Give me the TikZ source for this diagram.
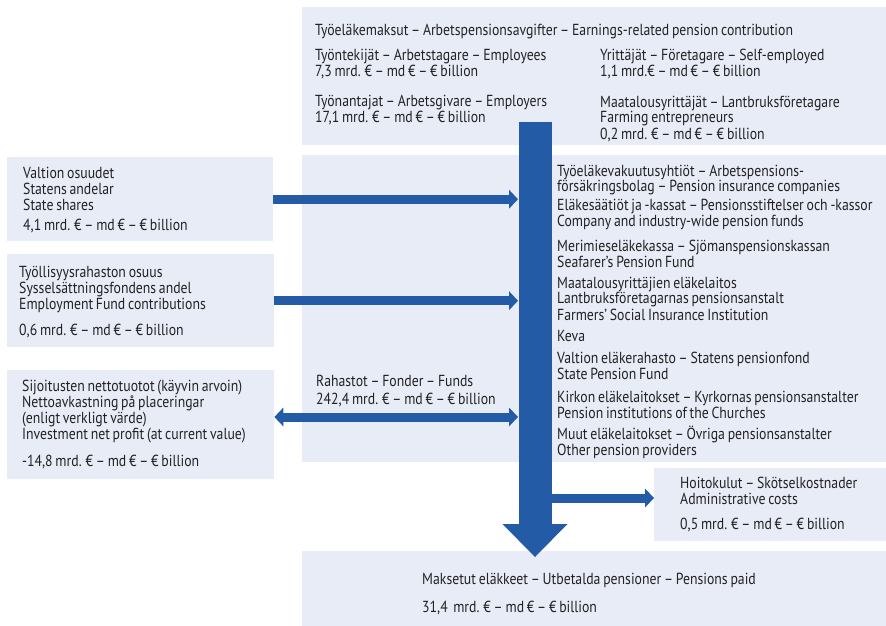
\documentclass[tikz,border=0pt]{standalone}
\usepackage{fontspec}
\setmainfont[FakeStretch=0.86,WordSpace=0.75]{PT Sans}
\usetikzlibrary{arrows.meta,calc}
\definecolor{panelfill}{RGB}{232,236,247}
\definecolor{flowblue}{RGB}{36,91,166}
\definecolor{textgray}{RGB}{34,34,34}
\newcommand{\lines}[1]{\begin{tabular}[t]{@{}l@{}}#1\end{tabular}}

\begin{document}
\begin{tikzpicture}[x=1pt,y=-1pt,
  panel/.style={fill=panelfill,draw=none,anchor=north west,inner sep=0pt},
  txt/.style={anchor=base west,inner sep=0pt,text=textgray,
    font=\fontsize{16}{15.5}\selectfont},
  flow/.style={flowblue,line width=9pt,
    -{Triangle[length=9pt,width=19pt,line width=0pt]}},
  flowboth/.style={flowblue,line width=9pt,
    {Triangle[length=9pt,width=19pt,line width=0pt]}-{Triangle[length=9pt,width=19pt,line width=0pt]}},
  mainflow/.style={flowblue,line width=33pt,
    -{Triangle[length=33pt,width=65pt,line width=0pt]}}]
  \useasboundingbox (0,0) rectangle (886,626);

  % panels
  \node[panel,minimum width=584pt,minimum height=138pt] (contrib) at (302,7) {};
  \node[panel,minimum width=584pt,minimum height=307pt] (funds) at (302,155) {};
  \node[panel,minimum width=232pt,minimum height=73pt] (hoito) at (654,468) {};
  \node[panel,minimum width=584pt,minimum height=75pt] (paid) at (302,551) {};
  \node[panel,minimum width=266pt,minimum height=84pt] (valtion) at (7,157) {};
  \node[panel,minimum width=267pt,minimum height=93pt] (tyollisyys) at (7,254) {};
  \node[panel,minimum width=267pt,minimum height=109pt] (sijoitus) at (7,370) {};

  % contributions
  \node[txt] (contribT) at (315,36) {Työeläkemaksut – Arbetspensionsavgifter – Earnings-related pension contribution};
  \node[txt] (employees) at (315,60) {\lines{Työntekijät – Arbetstagare – Employees\\7,3 mrd. € – md € – € billion}};
  \node[txt] (employers) at (315,106) {\lines{Työnantajat – Arbetsgivare – Employers\\17,1 mrd. € – md € – € billion}};
  \node[txt] (selfemp) at (600,60) {\lines{Yrittäjät – Företagare – Self-employed\\1,1 mrd.€ – md € – € billion}};
  \node[txt] (farmers) at (600,107) {\lines{Maatalousyrittäjät – Lantbruksföretagare\\Farming entrepreneurs\\0,2 mrd. € – md € – € billion}};

  % left side
  \node[txt] (valtionT) at (23,178) {\lines{Valtion osuudet\\Statens andelar\\State shares\\[4.5pt]4,1 mrd. € – md € – € billion}};
  \node[txt] (tyollisyysT) at (19,277) {\lines{Työllisyysrahaston osuus\\Sysselsättningsfondens andel\\Employment Fund contributions\\[10.5pt]0,6 mrd. € – md € – € billion}};
  \node[txt] (sijoitusT) at (22,391) {\lines{Sijoitusten nettotuotot (käyvin arvoin)\\Nettoavkastning på placeringar\\(enligt verkligt värde)\\Investment net profit (at current value)\\[10.5pt]-14,8 mrd. € – md € – € billion}};
  \node[txt] (rahastot) at (316,386) {\lines{Rahastot – Fonder – Funds\\[2.5pt]242,4 mrd. € – md € – € billion}};

  % pension providers
  \node[txt] (yhtiot) at (557,176) {\lines{Työeläkevakuutusyhtiöt – Arbetspensions-\\försäkringsbolag – Pension insurance companies}};
  \node[txt] (saatiot) at (557,210) {\lines{Eläkesäätiöt ja -kassat – Pensionsstiftelser och -kassor\\Company and industry-wide pension funds}};
  \node[txt] (merimies) at (557,251) {\lines{Merimieseläkekassa – Sjömanspensionskassan\\Seafarer's Pension Fund}};
  \node[txt] (mela) at (557,288) {\lines{Maatalousyrittäjien eläkelaitos\\Lantbruksföretagarnas pensionsanstalt\\Farmers' Social Insurance Institution}};
  \node[txt] (keva) at (557,341) {Keva};
  \node[txt] (vel) at (557,363) {\lines{Valtion eläkerahasto – Statens pensionfond\\State Pension Fund}};
  \node[txt] (kirkko) at (557,402) {\lines{Kirkon eläkelaitokset – Kyrkornas pensionsanstalter\\Pension institutions of the Churches}};
  \node[txt] (muut) at (557,439) {\lines{Muut eläkelaitokset – Övriga pensionsanstalter\\Other pension providers}};

  % outflows
  \node[txt] (hoitoT) at (680,488) {\lines{Hoitokulut – Skötselkostnader\\Administrative costs\\[9.5pt]0,5 mrd. € – md € – € billion}};
  \node[txt] (paidT) at (422,584) {\lines{Maksetut eläkkeet – Utbetalda pensioner – Pensions paid\\[12.5pt]31,4\ \ mrd. € – md € – € billion}};

  % arrows
  \coordinate (shafttop) at (535,122);
  \coordinate (shafttip) at (535,557);
  \coordinate (shaftL) at (518,0);
  \coordinate (shaftR) at (551,0);
  \draw[mainflow] (shafttop) -- (shafttip);
  \draw[flow] (valtion.east) -- (valtion.east -| shaftL);
  \draw[flow] (tyollisyys.east) -- (tyollisyys.east -| shaftL);
  \draw[flowboth] (sijoitus.east |- 0,417) -- (shaftL |- 0,417);
  \draw[flow] (shaftR |- 0,498) -- (hoito.west |- 0,498);
\end{tikzpicture}
\end{document}
